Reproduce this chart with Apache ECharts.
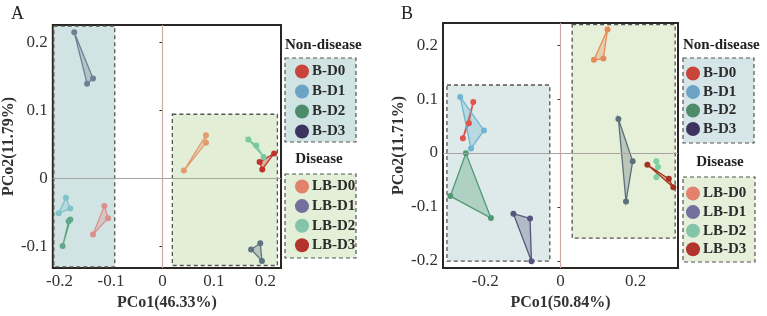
<!DOCTYPE html>
<html>
<head>
<meta charset="utf-8" />
<title>PCoA</title>
<script src="https://cdn.jsdelivr.net/npm/echarts@6/dist/echarts.min.js"></script>
<style>
  html, body { margin: 0; padding: 0; background: #fff; }
  #main { width: 767px; height: 316px; }
</style>
</head>
<body>
<div id="main"></div>
<script>
  // group names (same order everywhere)
  var groupNames = ['B-D0', 'B-D1', 'B-D2', 'B-D3', 'LB-D0', 'LB-D1', 'LB-D2', 'LB-D3'];
  var legendColors = ['#c9443a', '#6ca3c4', '#4e8b6b', '#3e335f', '#e3826c', '#736f9f', '#84c4ab', '#b3342c'];

  // panel A points, [PCo1, PCo2]
  var ptsA = [
    [[-0.1127, -0.040], [-0.1056, -0.058], [-0.1349, -0.082]],
    [[-0.1875, -0.028], [-0.179, -0.044], [-0.2015, -0.051]],
    [[-0.179, -0.060], [-0.1823, -0.0625], [-0.1939, -0.099]],
    [[-0.1714, 0.215], [-0.1349, 0.147], [-0.1464, 0.1395]],
    [[0.0417, 0.012], [0.0845, 0.0637], [0.0845, 0.0526]],
    [[0.1722, -0.104], [0.190, -0.095], [0.1933, -0.121]],
    [[0.167, 0.0574], [0.1823, 0.0487], [0.1964, 0.0319]],
    [[0.2169, 0.037], [0.1887, 0.0246], [0.1939, 0.0135]]
  ];
  // panel B points
  var ptsB = [
    [[-0.232, 0.0945], [-0.2436, 0.0551], [-0.2596, 0.0273]],
    [[-0.2667, 0.104], [-0.2036, 0.0418], [-0.238, 0.0084]],
    [[-0.2516, -0.0007], [-0.293, -0.080], [-0.185, -0.1207]],
    [[-0.1253, -0.1127], [-0.081, -0.1213], [-0.0773, -0.2007]],
    [[0.125, 0.229], [0.089, 0.1727], [0.114, 0.175]],
    [[0.154, 0.063], [0.192, -0.0153], [0.1742, -0.0898]],
    [[0.255, -0.0153], [0.2595, -0.026], [0.255, -0.045]],
    [[0.231, -0.0218], [0.288, -0.048], [0.300, -0.0637]]
  ];
  var colorsA = ['#d98f8c', '#80c3c9', '#5fa98a', '#6f8094', '#e39a6f', '#5f7282', '#78c9a0', '#c0322b'];
  var colorsB = ['#e0544a', '#6eb5d2', '#4f9a74', '#55557e', '#e58a58', '#5e707b', '#7dd0a4', '#a5331f'];

  // axis ranges and ticks
  var xRangeA = [-0.213, 0.2303], yRangeA = [-0.1314, 0.2257];
  var xRangeB = [-0.3125, 0.3125], yRangeB = [-0.2135, 0.241];
  var xTicksA = [-0.2, -0.1, 0, 0.1, 0.2], yTicksA = [-0.1, 0, 0.1, 0.2];
  var xTicksB = [-0.2, 0, 0.2], yTicksB = [-0.2, -0.1, 0, 0.1, 0.2];

  // shaded group regions [x1, x2, y1, y2]
  var boxesA = [[-0.211, -0.0927, -0.1295, 0.224], [0.0192, 0.2233, -0.1276, 0.0946]];
  var boxesB = [[-0.302, -0.0285, -0.2007, 0.126], [0.031, 0.305, -0.158, 0.238]];
  var boxColorsA = ['#d1e3e3', '#e3eed6'];
  var boxColorsB = ['#deeae9', '#e6f0d8'];

  var serif = "'Liberation Serif', 'Times New Roman', serif";

  function rgba(hex, a) {
    var n = parseInt(hex.slice(1), 16);
    return 'rgba(' + (n >> 16) + ',' + ((n >> 8) & 255) + ',' + (n & 255) + ',' + a + ')';
  }

  function axis(range, ticks, name, gap, idx) {
    return {
      type: 'value', gridIndex: idx, min: range[0], max: range[1],
      name: name, nameLocation: 'middle', nameGap: gap,
      nameTextStyle: { fontFamily: serif, fontWeight: 'bold', fontSize: 16, color: '#333' },
      axisLine: { show: false },
      axisTick: { show: true, customValues: ticks, length: 3, lineStyle: { color: '#333' } },
      axisLabel: { customValues: ticks, margin: 5, fontFamily: serif, fontSize: 17, color: '#333' },
      splitLine: { show: false }
    };
  }

  var series = [];
  function addPanel(idx, pts, colors, boxes, boxColors) {
    series.push({
      type: 'scatter', xAxisIndex: idx, yAxisIndex: idx, data: [], silent: true, z: 1,
      markArea: {
        silent: true,
        data: boxes.map(function (b, i) {
          return [{ xAxis: b[0], yAxis: b[3], itemStyle: { color: boxColors[i] } }, { xAxis: b[1], yAxis: b[2] }];
        }),
        itemStyle: { borderColor: '#555', borderWidth: 1.3, borderType: [4, 3] }
      }
    });
    series.push({
      type: 'scatter', xAxisIndex: idx, yAxisIndex: idx, data: [], silent: true, z: 2,
      markLine: {
        silent: true, symbol: 'none', label: { show: false },
        data: [
          { xAxis: 0, lineStyle: { color: '#c9aaa7', width: 1.2, type: 'solid' } },
          { yAxis: 0, lineStyle: { color: '#a9a3a1', width: 1.2, type: 'solid' } }
        ]
      }
    });
    pts.forEach(function (p, i) {
      var c = colors[i];
      series.push({
        type: 'custom', name: groupNames[i], xAxisIndex: idx, yAxisIndex: idx, data: p, z: 3, silent: true,
        renderItem: function (params, api) {
          if (params.dataIndex !== 0) return;
          var poly = p.map(function (d) { return api.coord(d); });
          return {
            type: 'polygon', shape: { points: poly },
            style: { fill: rgba(c, 0.32), stroke: c, lineWidth: 1.3 }
          };
        }
      });
      series.push({
        type: 'scatter', name: groupNames[i], xAxisIndex: idx, yAxisIndex: idx, data: p, z: 4,
        symbolSize: 6, itemStyle: { color: c, opacity: 1 }
      });
    });
  }
  addPanel(0, ptsA, colorsA, boxesA, boxColorsA);
  addPanel(1, ptsB, colorsB, boxesB, boxColorsB);

  function legend(names, left, top, gap) {
    return {
      data: names.map(function (n) {
        return { name: n, icon: 'circle', itemStyle: { color: legendColors[groupNames.indexOf(n)] } };
      }),
      orient: 'vertical', left: left, top: top, padding: 0,
      itemWidth: 14, itemHeight: 14, itemGap: gap, selectedMode: false,
      textStyle: { fontFamily: serif, fontWeight: 'bold', fontSize: 15, color: '#2b2b2b', lineHeight: 14, padding: [0, 0, 0, -2] }
    };
  }

  function box(x, y, w, h, fill) {
    return { type: 'rect', z: 0, shape: { x: x, y: y, width: w, height: h },
      style: { fill: fill, stroke: '#555', lineWidth: 1.2, lineDash: [4, 3] } };
  }
  function txt(s, x, y, size, bold, align) {
    return { type: 'text', z: 5, x: x, y: y,
      style: { text: s, fill: '#222', font: (bold ? 'bold ' : '') + size + 'px ' + serif,
        textAlign: align || 'left', textVerticalAlign: 'middle' } };
  }

  var option = {
    animation: false,
    grid: [
      { left: 50, top: 25, width: 231, height: 246, show: true, borderColor: '#2a2623', borderWidth: 2, backgroundColor: 'transparent' },
      { left: 443, top: 23, width: 235, height: 250, show: true, borderColor: '#2a2623', borderWidth: 2, backgroundColor: 'transparent' }
    ],
    xAxis: [axis(xRangeA, xTicksA, 'PCo1(46.33%)', 13, 0), axis(xRangeB, xTicksB, 'PCo1(50.84%)', 21, 1)],
    yAxis: [axis(yRangeA, yTicksA, 'PCo2(11.79%)', 31, 0), axis(yRangeB, yTicksB, 'PCo2(11.71%)', 27, 1)],
    legend: [
      legend(groupNames.slice(0, 4), 295, 64, 5),
      legend(groupNames.slice(4), 295, 179, 4.6),
      legend(groupNames.slice(0, 4), 686, 66, 3.5),
      legend(groupNames.slice(4), 686, 186, 3.6)
    ],
    graphic: [
      box(285, 58, 71, 84, '#d1e4e4'),
      box(285, 174, 71, 84, '#e4efd8'),
      box(683, 58, 71, 85, '#d6e6e8'),
      box(683, 177, 72, 85, '#e6efda'),
      txt('Non-disease', 285, 45, 15, true),
      txt('Disease', 319, 159, 15, true, 'center'),
      txt('Non-disease', 683, 45, 15, true),
      txt('Disease', 720, 162, 15, true, 'center'),
      txt('A', 11, 14, 18, false),
      txt('B', 401, 14, 18, false)
    ],
    series: series
  };

  var chart = echarts.init(document.getElementById('main'), null, { renderer: 'canvas' });
  chart.setOption(option);
</script>
</body>
</html>
